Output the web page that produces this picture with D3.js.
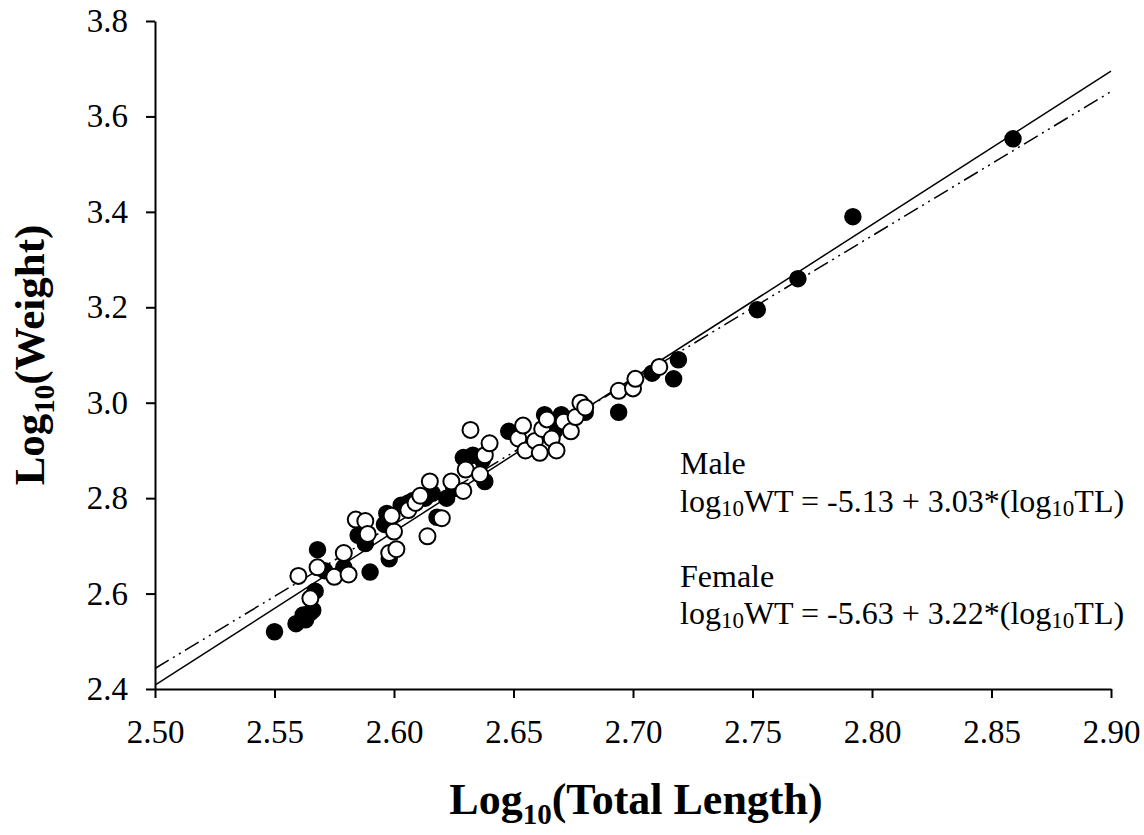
<!DOCTYPE html>
<html>
<head>
<meta charset="utf-8">
<script src="https://cdn.jsdelivr.net/npm/d3@7"></script>
<style>
  body { margin: 0; background: #fff; }
  svg { display: block; }
  text { font-family: "Liberation Serif", "Times New Roman", serif; fill: #000; }
</style>
</head>
<body>
<div class="plot-1"></div>
<script>
/* valores */
var filledX = [2.550, 2.559, 2.562, 2.563, 2.565, 2.566, 2.567, 2.568, 2.571, 2.579,
               2.585, 2.588, 2.590, 2.596, 2.597, 2.598, 2.603, 2.606, 2.608, 2.613,
               2.616, 2.618, 2.622, 2.625, 2.629, 2.633, 2.637, 2.638, 2.648, 2.663,
               2.665, 2.667, 2.670, 2.680, 2.694, 2.708, 2.717, 2.719, 2.752, 2.769,
               2.792, 2.859];
var filledY = [2.520, 2.537, 2.555, 2.545, 2.560, 2.565, 2.605, 2.692, 2.648, 2.655,
               2.722, 2.705, 2.645, 2.745, 2.768, 2.673, 2.785, 2.790, 2.795, 2.800,
               2.810, 2.760, 2.800, 2.820, 2.885, 2.890, 2.880, 2.835, 2.940, 2.975,
               2.935, 2.940, 2.975, 2.980, 2.980, 3.062, 3.050, 3.090, 3.195, 3.260,
               3.390, 3.553];

var openX = [2.560, 2.565, 2.568, 2.575, 2.579, 2.581, 2.584, 2.588, 2.589, 2.598,
             2.600, 2.599, 2.601, 2.606, 2.609, 2.611, 2.614, 2.615, 2.620, 2.624,
             2.629, 2.630, 2.632, 2.636, 2.638, 2.640, 2.652, 2.654, 2.655, 2.659,
             2.661, 2.662, 2.664, 2.666, 2.668, 2.671, 2.674, 2.676, 2.678, 2.680,
             2.694, 2.700, 2.701, 2.711];
var openY = [2.637, 2.590, 2.655, 2.635, 2.685, 2.640, 2.755, 2.752, 2.725, 2.685,
             2.730, 2.763, 2.693, 2.775, 2.790, 2.805, 2.720, 2.835, 2.758, 2.835,
             2.815, 2.860, 2.943, 2.850, 2.890, 2.915, 2.925, 2.952, 2.900, 2.920,
             2.895, 2.945, 2.965, 2.925, 2.900, 2.960, 2.940, 2.970, 3.000, 2.990,
             3.025, 3.030, 3.050, 3.075];

/* linhas de regressao (extremos) */
var solidLine = [[2.50, 2.408], [2.90, 3.695]];
var dashLine  = [[2.50, 2.443], [2.90, 3.652]];

var xTicks = [2.50, 2.55, 2.60, 2.65, 2.70, 2.75, 2.80, 2.85, 2.90];
var yTicks = [2.4, 2.6, 2.8, 3.0, 3.2, 3.4, 3.6, 3.8];

var svgDims = {width: 1144, height: 835};
var margin = {top: 21, right: 33, bottom: 146, left: 155};

function drawScatter(element){
	var width = svgDims.width - margin.left - margin.right;
	var height = svgDims.height - margin.top - margin.bottom;

	var svg = d3.select("." + element)
				.append("svg")
				.attr("width", svgDims.width)
				.attr("height", svgDims.height);

	var g = svg.append("g")
			.attr("transform", "translate(" + margin.left + "," + margin.top + ")");

	var xScale = d3.scaleLinear().range([0, width]).domain([2.50, 2.90]);
	var yScale = d3.scaleLinear().range([height, 0]).domain([2.4, 3.8]);

	var xAxis = d3.axisBottom(xScale).tickValues(xTicks)
				.tickFormat(d3.format(".2f")).tickSize(9).tickSizeOuter(0).tickPadding(22);
	var yAxis = d3.axisLeft(yScale).tickValues(yTicks)
				.tickFormat(d3.format(".1f")).tickSize(9).tickSizeOuter(0).tickPadding(18);

	var gx = g.append("g").attr("transform", "translate(0," + height + ")").call(xAxis);
	var gy = g.append("g").call(yAxis);
	[gx, gy].forEach(function(a){
		a.selectAll("path, line").attr("stroke", "#000").attr("stroke-width", 2);
		a.selectAll("text").style("font-size", "33px")
			.style("font-family", '"Liberation Serif", "Times New Roman", serif');
	});

	//linhas
	var line = d3.line().x(function(d){ return xScale(d[0]); })
						.y(function(d){ return yScale(d[1]); });
	g.append("path").datum(solidLine).attr("d", line)
		.attr("fill", "none").attr("stroke", "#000").attr("stroke-width", 1.5);
	g.append("path").datum(dashLine).attr("d", line)
		.attr("fill", "none").attr("stroke", "#000").attr("stroke-width", 1.5)
		.attr("stroke-dasharray", "16,5,2,5,2,5");

	//pontos
	g.selectAll("circle.filled").data(filledX).enter().append("circle")
		.attr("class", "filled")
		.attr("cx", function(d){ return xScale(d); })
		.attr("cy", function(d, i){ return yScale(filledY[i]); })
		.attr("r", 8).attr("fill", "#000").attr("stroke", "#000").attr("stroke-width", 1.5);
	g.selectAll("circle.open").data(openX).enter().append("circle")
		.attr("class", "open")
		.attr("cx", function(d){ return xScale(d); })
		.attr("cy", function(d, i){ return yScale(openY[i]); })
		.attr("r", 8).attr("fill", "#fff").attr("stroke", "#000").attr("stroke-width", 2);

	//titulos dos eixos
	var xt = svg.append("text").attr("x", 636).attr("y", 814)
		.attr("text-anchor", "middle").style("font-size", "44px").style("font-weight", "bold");
	xt.append("tspan").text("Log");
	xt.append("tspan").attr("dy", 10).style("font-size", "29px").text("10");
	xt.append("tspan").attr("dy", -10).text("(Total Length)");

	var yt = svg.append("text").attr("transform", "translate(44,355) rotate(-90)")
		.attr("text-anchor", "middle").style("font-size", "43px").style("font-weight", "bold");
	yt.append("tspan").text("Log");
	yt.append("tspan").attr("dy", 10).style("font-size", "29px").text("10");
	yt.append("tspan").attr("dy", -10).text("(Weight)");

	//equacoes
	var notes = [
		{y: 474, parts: [["Male", 0]]},
		{y: 512, parts: [["log", 0], ["10", 1], ["WT = -5.13 + 3.03*(log", 0], ["10", 1], ["TL)", 0]]},
		{y: 587, parts: [["Female", 0]]},
		{y: 624, parts: [["log", 0], ["10", 1], ["WT = -5.63 + 3.22*(log", 0], ["10", 1], ["TL)", 0]]}
	];
	notes.forEach(function(n){
		var t = svg.append("text").attr("x", 680).attr("y", n.y).style("font-size", "32px");
		var sub = false;
		n.parts.forEach(function(p){
			var s = t.append("tspan").text(p[0]);
			if (p[1] && !sub){ s.attr("dy", 4).style("font-size", "23px"); sub = true; }
			else if (!p[1] && sub){ s.attr("dy", -4); sub = false; }
		});
	});
}

drawScatter("plot-1");
</script>
</body>
</html>
